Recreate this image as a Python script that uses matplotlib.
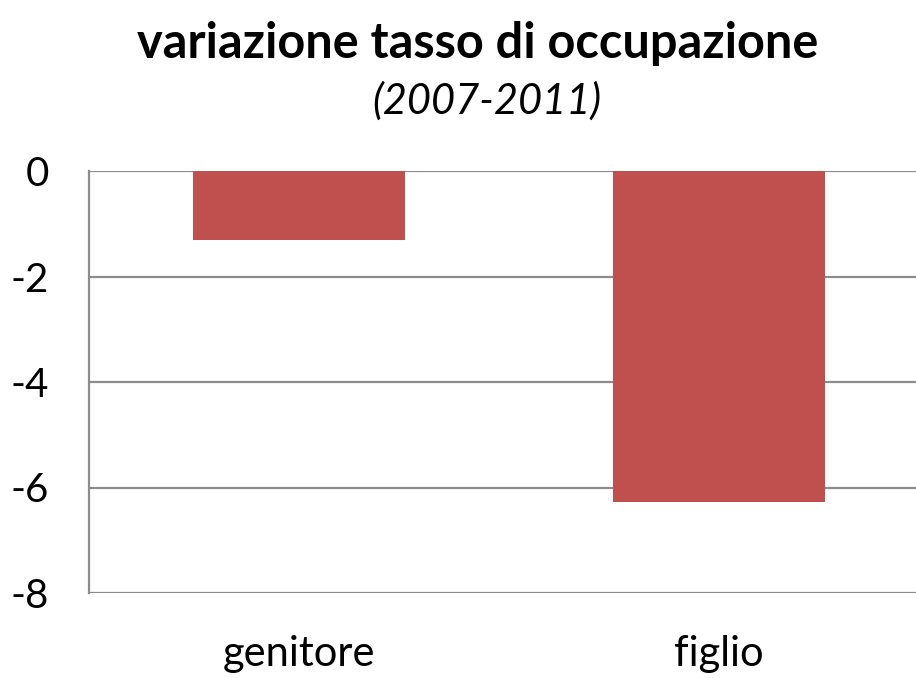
import matplotlib.pyplot as plt
import numpy as np

categories = ["genitore", "figlio"]
values = [-1.3, -6.27]
yticks = [0, -2, -4, -6, -8]

BAR = "#c0504d"
GRID = "#8c8c8c"

plt.rcParams["font.family"] = ["Lato", "DejaVu Sans"]

fig = plt.figure(figsize=(9.16, 6.78), dpi=100)
ax = fig.add_axes([89 / 916, 1 - 593 / 678, 840 / 916, (593 - 171) / 678])

x = np.arange(len(categories))
ax.bar(x, values, width=0.505, color=BAR, zorder=3)

ax.set_xlim(-0.5, 1.5)
ax.set_ylim(-8, 0)
ax.set_yticks(yticks)
ax.set_yticklabels([str(v) for v in yticks], fontsize=29)
ax.set_xticks(x)
ax.set_xticklabels(categories, fontsize=30)
ax.tick_params(length=0)
ax.tick_params(axis="y", pad=29)
ax.tick_params(axis="x", pad=30)
ax.yaxis.grid(True, color=GRID, linewidth=1.6)
ax.set_axisbelow(True)
for s in ("top", "right", "bottom"):
    ax.spines[s].set_visible(False)
ax.spines["left"].set_color(GRID)
ax.spines["left"].set_linewidth(1.6)

fig.text(478 / 916, 1 - 44 / 678, "variazione tasso di occupazione",
         ha="center", va="center", fontsize=35, fontweight="bold")
fig.text(487 / 916, 1 - 101 / 678, "(2007-2011)",
         ha="center", va="center", fontsize=30, style="italic")

fig.savefig("out.png", dpi=100)
